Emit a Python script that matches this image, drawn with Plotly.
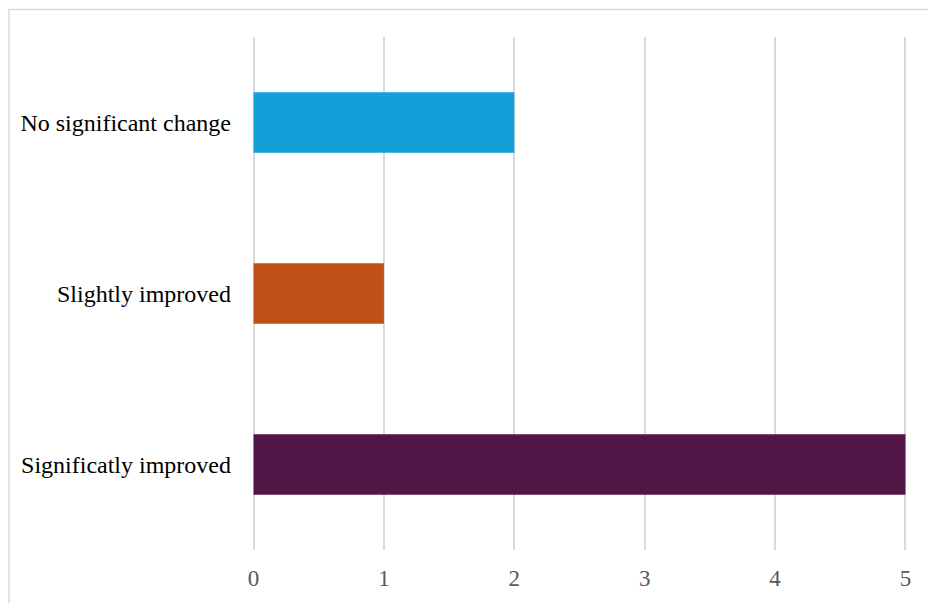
import plotly.graph_objects as go

# Survey outcome counts (top to bottom as displayed)
categories = ["No significant change", "Slightly improved", "Significatly improved"]
counts = [2, 1, 5]
colors = ["#139FD8", "#C05015", "#521646"]
x_ticks = [0, 1, 2, 3, 4, 5]

fig = go.Figure(
    go.Bar(
        y=categories,
        x=counts,
        orientation="h",
        marker=dict(color=colors, line=dict(width=0)),
        width=0.355,
        hoverinfo="x+y",
    )
)

L, R, T, B = 252, 21, 37, 51
W, H = 928, 603
pw, ph = W - L - R, H - T - B

fig.update_layout(
    width=W,
    height=H,
    margin=dict(l=L, r=R, t=T, b=B, pad=0),
    paper_bgcolor="white",
    plot_bgcolor="white",
    showlegend=False,
    font=dict(family="Liberation Serif, Times New Roman, serif", size=24, color="#000000"),
    xaxis=dict(
        # small padding so the gridlines at 0 and 5 are drawn too
        range=[-0.012, 5.012],
        tickvals=x_ticks,
        showgrid=True,
        gridcolor="#D9D9D9",
        gridwidth=1.5,
        zeroline=False,
        showline=False,
        ticks="",
        ticklabelstandoff=12,
        tickfont=dict(size=23, color="#595959"),
        fixedrange=True,
    ),
    yaxis=dict(
        categoryorder="array",
        categoryarray=categories[::-1],
        showgrid=False,
        zeroline=False,
        showline=False,
        ticks="",
        ticklabelstandoff=20,
        tickfont=dict(size=24, color="#000000"),
        fixedrange=True,
    ),
    shapes=[
        # outer chart frame
        dict(
            type="rect",
            xref="paper",
            yref="paper",
            x0=(9 - L) / pw,
            x1=(W + 20 - L) / pw,
            y0=-(B + 20) / ph,
            y1=1 + (T - 9.5) / ph,
            line=dict(color="#D9D9D9", width=1.5),
            fillcolor="rgba(0,0,0,0)",
            layer="below",
        )
    ],
)

fig.write_html("out.html")
